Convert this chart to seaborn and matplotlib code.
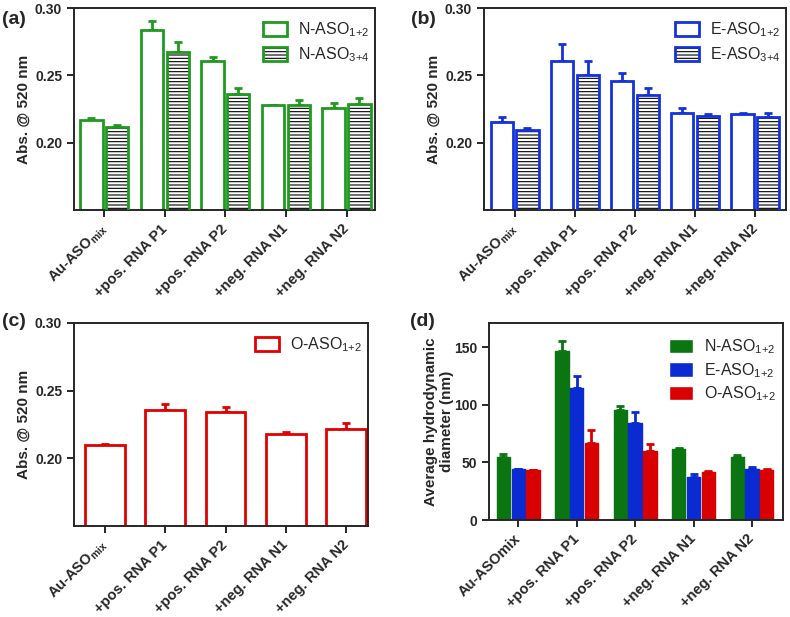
import numpy as np
import pandas as pd
import matplotlib
matplotlib.use("Agg")
import matplotlib.pyplot as plt
from matplotlib.patches import Patch, Rectangle
import seaborn as sns

# data
cats = ["Au-ASO$_{\\mathregular{mix}}$", "+pos. RNA P1", "+pos. RNA P2", "+neg. RNA N1", "+neg. RNA N2"]
cats_d = ["Au-ASOmix", "+pos. RNA P1", "+pos. RNA P2", "+neg. RNA N1", "+neg. RNA N2"]

n12 = [0.2165, 0.2837, 0.2603, 0.2276, 0.2254]
n12_err = [0.0020, 0.0063, 0.0032, 0.0004, 0.0042]
n34 = [0.2118, 0.2675, 0.2360, 0.2276, 0.2290]
n34_err = [0.0010, 0.0071, 0.0046, 0.0044, 0.0038]

e12 = [0.2155, 0.2603, 0.2460, 0.2217, 0.2210]
e12_err = [0.0035, 0.0131, 0.0057, 0.0039, 0.0012]
e34 = [0.2094, 0.2505, 0.2355, 0.2200, 0.2187]
e34_err = [0.0012, 0.0103, 0.0051, 0.0014, 0.0035]

o12 = [0.2099, 0.2358, 0.2346, 0.2180, 0.2217]
o12_err = [0.0007, 0.0040, 0.0032, 0.0017, 0.0047]

dls_n = [54.8, 146.3, 95.8, 61.5, 54.8]
dls_n_err = [2.3, 9.5, 3.2, 1.4, 1.5]
dls_e = [43.9, 114.8, 84.5, 37.2, 44.7]
dls_e_err = [0.5, 10.1, 9.3, 2.3, 0.9]
dls_o = [43.0, 67.2, 60.0, 41.8, 43.6]
dls_o_err = [0.6, 10.7, 5.8, 0.6, 0.8]

green = "#1f9a1f"
blue = "#1432dc"
red = "#e00000"
dgreen = "#0b7512"
dblue = "#0a2ad2"
dred = "#d80000"

sns.set_style("ticks")
plt.rcParams["font.family"] = ["Liberation Sans", "DejaVu Sans"]
plt.rcParams["mathtext.fontset"] = "custom"
plt.rcParams["mathtext.rm"] = "Liberation Sans"
plt.rcParams["hatch.linewidth"] = 0.8
plt.rcParams["axes.linewidth"] = 1.4

fig = plt.figure(figsize=(7.9, 6.17), dpi=100)
ax_a = fig.add_axes([74 / 790, 1 - 210 / 617, 301 / 790, 202 / 617])
ax_b = fig.add_axes([484 / 790, 1 - 210 / 617, 302 / 790, 202 / 617])
ax_c = fig.add_axes([74 / 790, 1 - 526 / 617, 294 / 790, 203 / 617])
ax_d = fig.add_axes([489 / 790, 1 - 520 / 617, 294 / 790, 197 / 617])


def style_axis(ax, labels, ylabel, lpad=3):
    ax.set_xlabel("")
    ax.set_ylabel(ylabel, fontsize=11, fontweight="bold", labelpad=lpad)
    ax.set_xticks(range(len(labels)))
    ax.set_xticklabels(labels, rotation=45, ha="right", va="center",
                       rotation_mode="anchor", fontsize=10.5, fontweight="bold")
    ax.tick_params(axis="x", length=5, width=1.4, pad=7)
    ax.tick_params(axis="y", length=5, width=1.4, labelsize=10)
    for t in ax.get_yticklabels():
        t.set_fontweight("bold")


def add_err(ax, cont, err, color, lw=2, cap=3):
    xs = [b.get_x() + b.get_width() / 2 for b in cont]
    ys = [b.get_height() for b in cont]
    ax.errorbar(xs, ys, yerr=[np.zeros(len(err)), err], fmt="none",
                ecolor=color, elinewidth=lw, capsize=cap, capthick=lw, zorder=1)


def outlined_pair(ax, v1, e1, v2, e2, names, color):
    df = pd.DataFrame({"cat": list(range(5)) * 2,
                       "val": v1 + v2,
                       "ser": [names[0]] * 5 + [names[1]] * 5})
    sns.barplot(data=df, x="cat", y="val", hue="ser", ax=ax, errorbar=None,
                width=0.85, gap=0.13, palette=[color, color], legend=False)
    c1, c2 = ax.containers[0], ax.containers[1]
    for b in c1:
        b.set_facecolor("white")
        b.set_edgecolor(color)
        b.set_linewidth(2)
        b.set_zorder(2)
    for b in c2:
        b.set_facecolor("white")
        b.set_edgecolor("black")
        b.set_hatch("-----")
        b.set_linewidth(0)
        b.set_zorder(2)
        ax.add_patch(Rectangle(b.get_xy(), b.get_width(), b.get_height(),
                               fill=False, edgecolor=color, linewidth=2, zorder=3))
    add_err(ax, c1, e1, color)
    add_err(ax, c2, e2, color)
    h1 = Patch(facecolor="white", edgecolor=color, linewidth=2)
    h2 = (Patch(facecolor="white", edgecolor="black", hatch="-----", linewidth=0),
          Patch(fill=False, edgecolor=color, linewidth=2))
    ax.legend([h1, h2], names, loc="upper right", bbox_to_anchor=(1.03, 1.01),
              frameon=False, fontsize=11.5, handlelength=1.5, handleheight=1.0,
              handletextpad=0.7, labelspacing=0.4)
    ax.set_ylim(0.15, 0.30)
    ax.set_yticks([0.20, 0.25, 0.30])
    ax.set_yticklabels(["0.20", "0.25", "0.30"])
    ax.set_xlim(-0.5, 4.47)


# (a)
outlined_pair(ax_a, n12, n12_err, n34, n34_err,
              ["N-ASO$_{\\mathregular{1{+}2}}$", "N-ASO$_{\\mathregular{3{+}4}}$"], green)
style_axis(ax_a, cats, "Abs. @ 520 nm")

# (b)
outlined_pair(ax_b, e12, e12_err, e34, e34_err,
              ["E-ASO$_{\\mathregular{1{+}2}}$", "E-ASO$_{\\mathregular{3{+}4}}$"], blue)
ax_b.set_xlim(-0.51, 4.51)
style_axis(ax_b, cats, "Abs. @ 520 nm")

# (c)
df_c = pd.DataFrame({"cat": list(range(5)), "val": o12})
sns.barplot(data=df_c, x="cat", y="val", ax=ax_c, errorbar=None, width=0.66,
            color=red)
for b in ax_c.containers[0]:
    b.set_facecolor("white")
    b.set_edgecolor(red)
    b.set_linewidth(2)
    b.set_zorder(2)
add_err(ax_c, ax_c.containers[0], o12_err, red)
ax_c.legend([Patch(facecolor="white", edgecolor=red, linewidth=2)],
            ["O-ASO$_{\\mathregular{1{+}2}}$"], loc="upper right",
            bbox_to_anchor=(1.03, 1.01), frameon=False, fontsize=11.5,
            handlelength=1.5, handleheight=1.0, handletextpad=0.7)
ax_c.set_ylim(0.15, 0.30)
ax_c.set_yticks([0.20, 0.25, 0.30])
ax_c.set_yticklabels(["0.20", "0.25", "0.30"])
ax_c.set_xlim(-0.51, 4.36)
style_axis(ax_c, cats, "Abs. @ 520 nm")

# (d)
names_d = ["N-ASO$_{\\mathregular{1{+}2}}$", "E-ASO$_{\\mathregular{1{+}2}}$", "O-ASO$_{\\mathregular{1{+}2}}$"]
df_d = pd.DataFrame({"cat": list(range(5)) * 3,
                     "val": dls_n + dls_e + dls_o,
                     "ser": [names_d[0]] * 5 + [names_d[1]] * 5 + [names_d[2]] * 5})
sns.barplot(data=df_d, x="cat", y="val", hue="ser", ax=ax_d, errorbar=None,
            width=0.76, gap=0.1, palette=[dgreen, dblue, dred],
            linewidth=1, saturation=1)
for cont, col, err in zip(ax_d.containers, [dgreen, dblue, dred],
                          [dls_n_err, dls_e_err, dls_o_err]):
    for b in cont:
        b.set_edgecolor(col)
        b.set_joinstyle("round")
        b.set_zorder(2)
    add_err(ax_d, cont, err, col, lw=2, cap=3)
ax_d.legend(loc="upper right", bbox_to_anchor=(1.025, 1.0), frameon=False,
            fontsize=11.5, handlelength=1.5, handleheight=1.0,
            handletextpad=0.7, labelspacing=0.3, title=None)
ax_d.set_ylim(0, 171)
ax_d.set_yticks([0, 50, 100, 150])
ax_d.set_xlim(-0.5, 4.53)
style_axis(ax_d, cats_d, "Average hydrodynamic\ndiameter (nm)", lpad=0)

# panel letters
for x, y, s in [(2, 20, "(a)"), (411, 20, "(b)"), (2, 322, "(c)"), (410, 322, "(d)")]:
    fig.text(x / 790, 1 - y / 617, s, fontsize=14, fontweight="bold", va="center")

fig.savefig("out.png", dpi=100)
